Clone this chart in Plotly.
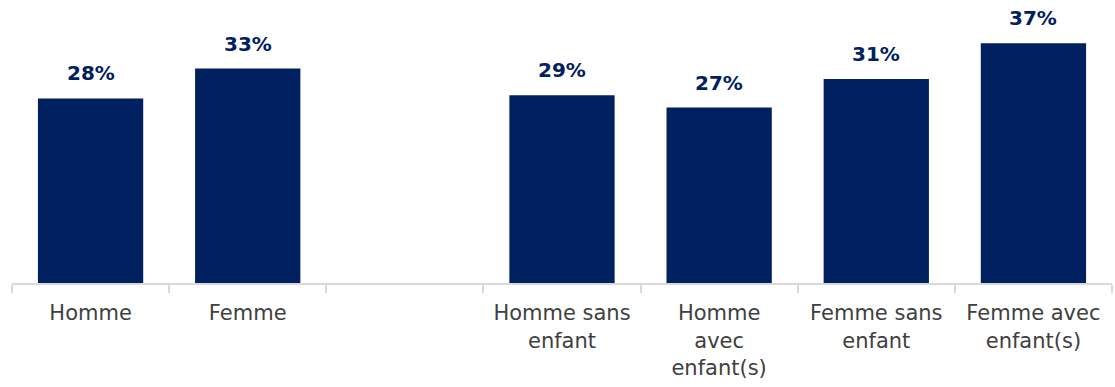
import plotly.graph_objects as go

categories = ["Homme", "Femme", " ", "Homme sans<br>enfant", "Homme<br>avec<br>enfant(s)",
              "Femme sans<br>enfant", "Femme avec<br>enfant(s)"]
values = [28.4, 33.0, None, 28.9, 27.0, 31.4, 36.9]
labels = ["28%", "33%", "", "29%", "27%", "31%", "37%"]

NAVY = "#002060"

fig = go.Figure()
fig.add_trace(go.Bar(
    x=categories, y=values, marker=dict(color=NAVY, line=dict(width=0)),
    width=0.67, hoverinfo="skip",
))

for c, v, t in zip(categories, values, labels):
    if v is None:
        continue
    fig.add_annotation(x=c, y=v, text=t, showarrow=False, yanchor="bottom", yshift=11,
                       font=dict(family="DejaVu Sans", size=20, color=NAVY, weight="bold"))

fig.update_layout(
    width=1115, height=387,
    margin=dict(l=12, r=3, t=10, b=104, autoexpand=False),
    paper_bgcolor="white", plot_bgcolor="white",
    showlegend=False,
    font=dict(family="DejaVu Sans", color="#404040", size=21),
    xaxis=dict(
        type="category", categoryorder="array", categoryarray=categories,
        automargin=False,
        showline=True, linecolor="#d9d9d9", linewidth=2,
        ticks="outside", tickson="boundaries", ticklen=8, tickcolor="#d9d9d9", tickwidth=2,
        ticklabelstandoff=10,
        tickfont=dict(family="DejaVu Sans", size=21, color="#404040"),
        showgrid=False,
    ),
    yaxis=dict(range=[0, 42.0], visible=False, showgrid=False, zeroline=False, automargin=False),
)

fig.write_html("out.html",
               config={"displayModeBar": False},
               post_script="document.body.style.margin='0';document.body.style.overflow='hidden';")
